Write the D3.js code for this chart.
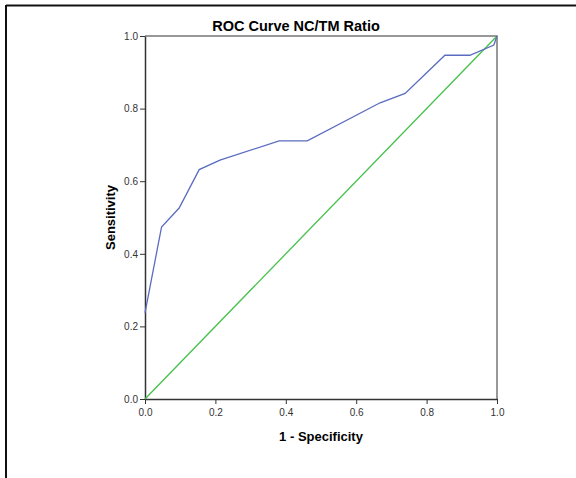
<!DOCTYPE html>
<html>
<head>
<meta charset="utf-8">
<script src="https://cdn.jsdelivr.net/npm/d3@7"></script>
<style>
  body { margin: 0; background: #fff; }
  svg { display: block; font-family: "Liberation Sans", Arial, sans-serif; }
</style>
</head>
<body>
<div id="chart"></div>
<script>
// ROC points
const fpr = [0, 0.047, 0.097, 0.154, 0.213, 0.381, 0.461, 0.668, 0.739, 0.852, 0.923, 0.991, 1];
const tpr = [0.237, 0.474, 0.526, 0.632, 0.658, 0.711, 0.711, 0.816, 0.842, 0.947, 0.947, 0.975, 1];
const refLine = [0, 1];
const ticks = [0, 0.2, 0.4, 0.6, 0.8, 1.0];

const width = 576;
const height = 478;
const margin = { top: 36, right: 79, bottom: 79, left: 145 };

const svg = d3.select("#chart")
  .append("svg")
  .attr("width", width)
  .attr("height", height);

// outer frame (left and top edges visible)
svg.append("line").attr("x1", 6).attr("x2", 6).attr("y1", 5).attr("y2", height)
  .attr("stroke", "#111").attr("stroke-width", 2);
svg.append("line").attr("x1", 6).attr("x2", width).attr("y1", 5.5).attr("y2", 5.5)
  .attr("stroke", "#111").attr("stroke-width", 2);

const x = d3.scaleLinear().domain([0, 1]).range([margin.left, width - margin.right]);
const y = d3.scaleLinear().domain([0, 1]).range([height - margin.bottom, margin.top]);

// top and right frame of plot
svg.append("path")
  .attr("d", `M${x(0)},${y(1)}H${x(1)}V${y(0)}`)
  .attr("fill", "none")
  .attr("stroke", "#777")
  .attr("stroke-width", 1.5);

const fmt = d3.format(".1f");

const xAxis = svg.append("g")
  .attr("transform", `translate(0, ${y(0)})`)
  .call(d3.axisBottom(x).tickValues(ticks).tickFormat(fmt).tickSize(5).tickSizeOuter(0));
const yAxis = svg.append("g")
  .attr("transform", `translate(${x(0)}, 0)`)
  .call(d3.axisLeft(y).tickValues(ticks).tickFormat(fmt).tickSize(5).tickSizeOuter(0));

[xAxis, yAxis].forEach(g => {
  g.select(".domain").attr("stroke", "#333").attr("stroke-width", 1.5);
  g.selectAll(".tick line").attr("stroke", "#333");
  g.selectAll("text").attr("font-size", 10).attr("fill", "#333")
    .attr("font-family", "Liberation Sans, Arial, sans-serif");
});
xAxis.selectAll("text").attr("dy", "0.9em");
yAxis.selectAll("text").attr("dx", "0.1em");

// reference diagonal
svg.append("line")
  .attr("x1", x(refLine[0])).attr("y1", y(refLine[0]))
  .attr("x2", x(refLine[1])).attr("y2", y(refLine[1]))
  .attr("stroke", "#45c04a")
  .attr("stroke-width", 1.3);

// ROC curve
const line = d3.line().x(i => x(fpr[i])).y(i => y(tpr[i]));
svg.append("path")
  .datum(d3.range(fpr.length))
  .attr("d", line)
  .attr("fill", "none")
  .attr("stroke", "#5a6cc0")
  .attr("stroke-width", 1.3);

svg.append("text")
  .attr("x", 296).attr("y", 31)
  .attr("text-anchor", "middle")
  .attr("font-size", 14.5).attr("font-weight", "bold")
  .text("ROC Curve NC/TM Ratio");

svg.append("text")
  .attr("x", x(0.5)).attr("y", 441)
  .attr("text-anchor", "middle")
  .attr("font-size", 13).attr("font-weight", "bold")
  .text("1 - Specificity");

svg.append("text")
  .attr("transform", `translate(115, ${y(0.5)}) rotate(-90)`)
  .attr("text-anchor", "middle")
  .attr("font-size", 13).attr("font-weight", "bold")
  .text("Sensitivity");
</script>
</body>
</html>
